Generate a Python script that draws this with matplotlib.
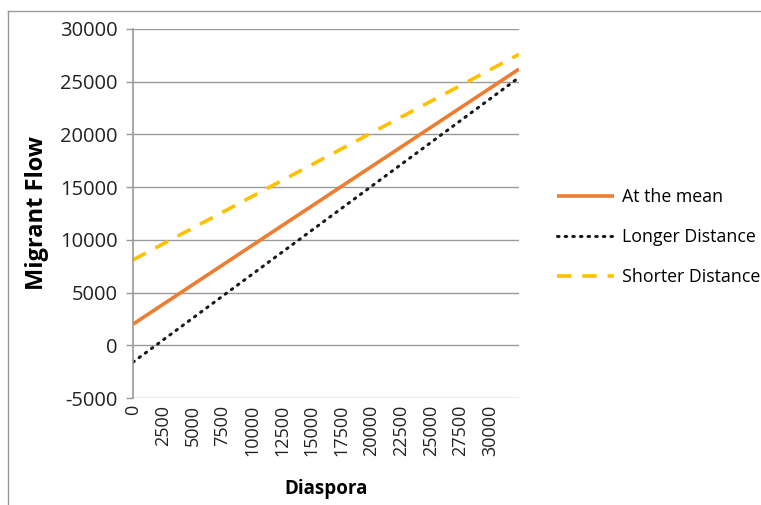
import numpy as np
import matplotlib.pyplot as plt
from matplotlib.lines import Line2D

plt.rcParams['font.family'] = ['Open Sans', 'DejaVu Sans']

# values (straight lines, end points)
diaspora = [0, 32400]
at_mean = [2000, 26200]
longer_dist = [-1600, 25400]
shorter_dist = [8100, 27600]
x_ticks = np.arange(0, 30001, 2500)
y_ticks = np.arange(-5000, 30001, 5000)

fig = plt.figure(figsize=(7.61, 5.05), dpi=100)
ax = fig.add_axes([133/761, 1-398/505, (519-133)/761, (398-29)/505])

ax.plot(diaspora, at_mean, color='#ED7D31', lw=2.6, label='At the mean',
        solid_capstyle='butt')
ax.plot(diaspora, longer_dist, color='#1a1a1a', lw=2.2, ls=(0, (0.5, 2.0)),
        dash_capstyle='round', label='Longer Distance')
ax.plot(diaspora, shorter_dist, color='#FFC000', lw=2.6, ls=(0, (4, 3)),
        label='Shorter Distance')

ax.set_xlim(0, 32400)
ax.set_ylim(-5000, 30000)
ax.set_xticks(x_ticks)
ax.set_xticklabels([str(v) for v in x_ticks], rotation=90, fontsize=13,
                   color='#222222')
ax.set_yticks(y_ticks)
ax.set_yticklabels([str(v) for v in y_ticks], fontsize=14.5, color='#222222')
ax.tick_params(axis='x', length=0, pad=5)
ax.tick_params(axis='y', length=5, color='#999999', width=1, pad=6)
ax.grid(axis='y', color='#9a9a9a', lw=1)
ax.set_axisbelow(True)
for s in ['top', 'right', 'bottom']:
    ax.spines[s].set_visible(False)
ax.spines['left'].set_color('#999999')
ax.spines['left'].set_linewidth(1.2)

ax.set_xlabel('Diaspora', fontsize=13.5, fontweight='bold', labelpad=16)
ax.set_ylabel('Migrant Flow', fontsize=17, fontweight='bold', labelpad=8)

fig.legend(loc='center left', bbox_to_anchor=(541/761, 1-237/505),
           frameon=False, fontsize=12.8, handlelength=3.2, handletextpad=0.45,
           labelspacing=1.25)

# outer chart frame
fig.add_artist(Line2D([8/761, 8/761], [0, 1-11/505], color='#999999',
                      lw=1, transform=fig.transFigure))
fig.add_artist(Line2D([8/761, 1], [1-11/505, 1-11/505], color='#999999',
                      lw=1, transform=fig.transFigure))

fig.savefig('out.png', dpi=100)
